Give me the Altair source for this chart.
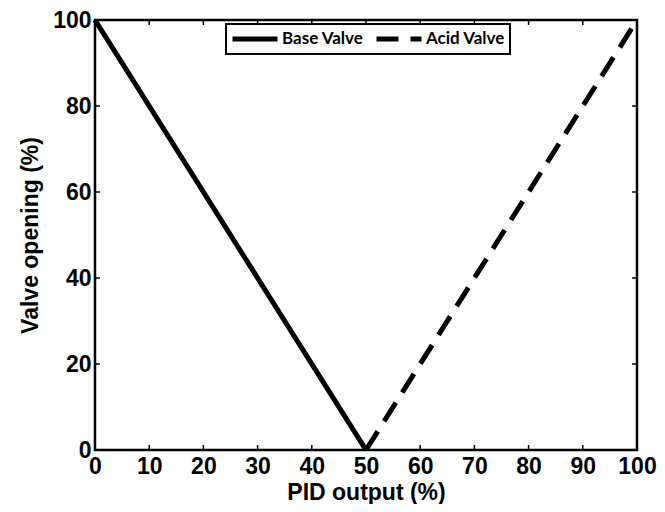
import altair as alt
import pandas as pd

# Data
base_x = [0, 50]
base_y = [100, 0]
acid_x = [50, 100]
acid_y = [0, 100]
series = ["Base Valve", "Acid Valve"]
x_ticks = [0, 10, 20, 30, 40, 50, 60, 70, 80, 90, 100]
y_ticks = [0, 20, 40, 60, 80, 100]
x_inner_ticks = [10, 20, 30, 40, 50, 60, 70, 80, 90]
y_inner_ticks = [20, 40, 60, 80]

df = pd.DataFrame(
    {"x": base_x + acid_x, "y": base_y + acid_y,
     "valve": [series[0]] * len(base_x) + [series[1]] * len(acid_x)}
)
dfx = pd.DataFrame({"t": x_inner_ticks})
dfy = pd.DataFrame({"t": y_inner_ticks})

W, H = 542, 430
FONT = "Liberation Sans"

xscale = alt.Scale(domain=[0, 100], nice=False)
yscale = alt.Scale(domain=[0, 100], nice=False)

lines = alt.Chart(df).mark_line(strokeWidth=5, color="black", strokeCap="butt").encode(
    x=alt.X("x:Q", scale=xscale,
            axis=alt.Axis(values=x_ticks, title="PID output (%)", grid=False, ticks=False,
                          domain=False, labelPadding=5, titlePadding=3, labelFlush=False,
                          labelOverlap=False)),
    y=alt.Y("y:Q", scale=yscale,
            axis=alt.Axis(values=y_ticks, title="Valve opening (%)", grid=False, ticks=False,
                          domain=False, labelPadding=4, titlePadding=10, labelFlush=False,
                          labelOverlap=False)),
    strokeDash=alt.StrokeDash(
        "valve:N",
        scale=alt.Scale(domain=series, range=[[1, 0], [22, 12]]),
        sort=series,
        legend=alt.Legend(
            title=None, orient="none", legendX=131, legendY=4, direction="horizontal",
            symbolType="stroke", symbolStrokeWidth=5, symbolStrokeColor="black",
            symbolSize=2025, labelFont="Lato", labelFontSize=17, labelFontWeight="bold",
            labelColor="black", labelOffset=2, columnPadding=10, clipHeight=22,
            strokeColor="black", padding=4, fillColor="white",
        ),
    ),
    detail="valve:N",
)

bottom_ticks = alt.Chart(dfx).mark_rule(color="black", strokeWidth=1.5).encode(
    x=alt.X("t:Q", scale=xscale), y=alt.value(H), y2=alt.value(H - 5))
top_ticks = alt.Chart(dfx).mark_rule(color="black", strokeWidth=1.5).encode(
    x=alt.X("t:Q", scale=xscale), y=alt.value(0), y2=alt.value(5))
left_ticks = alt.Chart(dfy).mark_rule(color="black", strokeWidth=1.5).encode(
    y=alt.Y("t:Q", scale=yscale), x=alt.value(0), x2=alt.value(5))
right_ticks = alt.Chart(dfy).mark_rule(color="black", strokeWidth=1.5).encode(
    y=alt.Y("t:Q", scale=yscale), x=alt.value(W), x2=alt.value(W - 5))

chart = alt.layer(bottom_ticks, top_ticks, left_ticks, right_ticks, lines).properties(
    width=W, height=H,
    autosize=alt.AutoSizeParams(type="none"),
    padding={"left": 87, "top": 12, "right": 20, "bottom": 54},
    background="white",
).configure_view(stroke="black", strokeWidth=2.5).configure_axis(
    labelFont=FONT, labelFontSize=23, labelFontWeight="bold", labelColor="black",
    titleFont=FONT, titleFontSize=23, titleFontWeight="bold", titleColor="black",
).configure_legend(strokeWidth=2)

chart.save("out.html", embed_options={"renderer": "svg", "actions": False})
